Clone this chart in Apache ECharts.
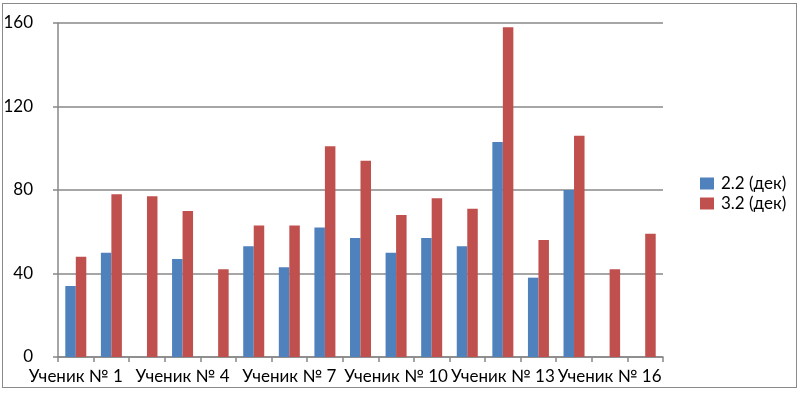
<!DOCTYPE html>
<html>
<head>
<meta charset="utf-8">
<script src="https://cdn.jsdelivr.net/npm/echarts@6/dist/echarts.min.js"></script>
<style>
html,body{margin:0;padding:0;background:#fff;}
#frame{position:absolute;left:2px;top:3px;width:793px;height:383px;border:1.5px solid #8a8a8a;}
#chart{position:absolute;left:0;top:0;width:800px;height:394px;}
</style>
</head>
<body>
<div id="frame"></div>
<div id="chart"></div>
<script>
var categories = ['Ученик № 1','Ученик № 2','Ученик № 3','Ученик № 4','Ученик № 5','Ученик № 6','Ученик № 7','Ученик № 8','Ученик № 9','Ученик № 10','Ученик № 11','Ученик № 12','Ученик № 13','Ученик № 14','Ученик № 15','Ученик № 16','Ученик № 17'];
var seriesNames = ['2.2 (дек)','3.2 (дек)'];
var values22 = [34, 50, null, 47, null, 53, 43, 62, 57, 50, 57, 53, 103, 38, 80, null, null];
var values32 = [48, 78, 77, 70, 42, 63, 63, 101, 94, 68, 76, 71, 158, 56, 106, 42, 59];
var yTicks = [0, 40, 80, 120, 160];

var font = 'Lato, Open Sans, sans-serif';
var chart = echarts.init(document.getElementById('chart'), null, {renderer:'canvas'});
chart.setOption({
  animation:false,
  backgroundColor:'transparent',
  grid:{left:58,right:137,top:23,bottom:37,containLabel:false},
  legend:{
    orient:'vertical',
    left:695, top:170,
    itemWidth:14, itemHeight:12, itemGap:3,
    icon:'rect',
    textStyle:{fontFamily:font,fontSize:17,color:'#000',padding:[0,0,0,2]},
    data:seriesNames
  },
  xAxis:{
    type:'category',
    data:categories,
    axisLine:{lineStyle:{color:'#888',width:1.5}},
    axisTick:{show:true,alignWithLabel:false,interval:0,length:5,lineStyle:{color:'#888',width:1.5}},
    axisLabel:{interval:2,fontFamily:font,fontSize:17,color:'#000',margin:11}
  },
  yAxis:{
    type:'value',
    min:yTicks[0], max:yTicks[yTicks.length-1], interval:40,
    axisLine:{show:true,lineStyle:{color:'#888',width:1.5}},
    axisTick:{show:true,length:5,lineStyle:{color:'#888',width:1.5}},
    splitLine:{lineStyle:{color:'#888',width:1.5}},
    axisLabel:{fontFamily:font,fontSize:17,color:'#000',margin:25,align:'right'}
  },
  series:[
    {name:seriesNames[0],type:'bar',data:values22,barWidth:10.5,barGap:'0%',itemStyle:{color:'#4F81BD'}},
    {name:seriesNames[1],type:'bar',data:values32,barWidth:10.5,barGap:'0%',itemStyle:{color:'#C0504D'}}
  ]
});
</script>
</body>
</html>
